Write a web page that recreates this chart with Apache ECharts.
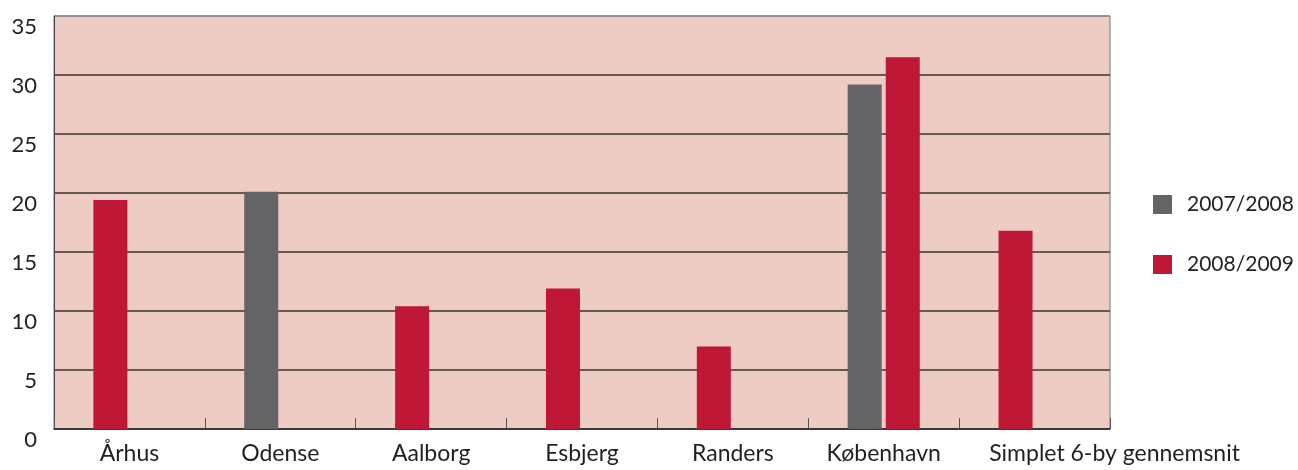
<!DOCTYPE html>
<html>
<head>
<meta charset="utf-8">
<script src="https://cdn.jsdelivr.net/npm/echarts@6/dist/echarts.min.js"></script>
<style>
  html, body { margin: 0; padding: 0; background: #fff; }
  #chart { width: 1298px; height: 470px; }
</style>
</head>
<body>
<div id="chart"></div>
<script>
const CATEGORIES = ["Århus", "Odense", "Aalborg", "Esbjerg", "Randers", "København", "Simplet 6-by gennemsnit"];
const SERIES_NAMES = ["2007/2008", "2008/2009"];
const VALUES_2007_2008 = [null, 20.1, null, null, null, 29.2, null];
const VALUES_2008_2009 = [19.4, null, 10.4, 11.9, 7.0, 31.5, 16.8];
const Y_TICKS = [0, 5, 10, 15, 20, 25, 30, 35];

const GRAY = "#646466";
const RED = "#be1836";
const FONT = "Lato, 'Open Sans', sans-serif";
const TEXT = "#231f20";

// in the original a lone bar sits in the first slot; the second slot is only used
// when both years have a value
const redFirstSlot = VALUES_2008_2009.map((v, i) => (VALUES_2007_2008[i] == null ? v : null));
const redSecondSlot = VALUES_2008_2009.map((v, i) => (VALUES_2007_2008[i] == null ? null : v));

// grid lines are dark, the top border line is a lighter gray
const splitColors = Y_TICKS.map((t, i) => (i === Y_TICKS.length - 1 ? "#888" : "#3b3030"));

const chart = echarts.init(document.getElementById("chart"));

chart.setOption({
  animation: false,
  backgroundColor: "#fff",
  textStyle: { fontFamily: FONT, color: TEXT },
  grid: {
    left: 54,
    right: 188,
    top: 16,
    bottom: 41,
    show: true,
    backgroundColor: "#eecbc3",
    borderColor: "#777",
    borderWidth: 1
  },
  legend: {
    orient: "vertical",
    left: 1148,
    top: 189,
    itemWidth: 19,
    itemHeight: 19,
    itemGap: 39,
    icon: "rect",
    data: SERIES_NAMES,
    textStyle: { fontFamily: FONT, fontSize: 21, color: TEXT, padding: [0, 0, 0, 10] }
  },
  xAxis: {
    type: "category",
    data: CATEGORIES,
    axisLine: { lineStyle: { color: "#333", width: 1.5 } },
    axisTick: { show: true, inside: true, length: 11, lineStyle: { color: "#555" } },
    axisLabel: {
      fontFamily: FONT,
      fontSize: 23,
      color: TEXT,
      margin: 13,
      interval: 0,
      // the last (long) label is pushed right in the original
      formatter: (value, index) => (index === CATEGORIES.length - 1 ? "{shift|" + value + "}" : value),
      rich: { shift: { fontFamily: FONT, fontSize: 23, color: TEXT, padding: [0, 0, 0, 160] } }
    }
  },
  yAxis: {
    type: "value",
    min: Y_TICKS[0],
    max: Y_TICKS[Y_TICKS.length - 1],
    interval: 5,
    axisLine: { show: true, lineStyle: { color: "#444" } },
    axisTick: { show: false },
    axisLabel: { fontFamily: FONT, fontSize: 22, color: TEXT, margin: 17, verticalAlign: "top" },
    splitLine: { show: true, lineStyle: { color: splitColors, width: 1.5 } }
  },
  series: [
    {
      name: SERIES_NAMES[0],
      type: "bar",
      stack: "first",
      barWidth: 34,
      barGap: "12%",
      itemStyle: { color: GRAY },
      data: VALUES_2007_2008
    },
    {
      name: SERIES_NAMES[1],
      type: "bar",
      stack: "first",
      barWidth: 34,
      barGap: "12%",
      itemStyle: { color: RED },
      data: redFirstSlot
    },
    {
      name: SERIES_NAMES[1],
      type: "bar",
      stack: "second",
      barWidth: 34,
      barGap: "12%",
      itemStyle: { color: RED },
      data: redSecondSlot
    }
  ]
});
</script>
</body>
</html>
